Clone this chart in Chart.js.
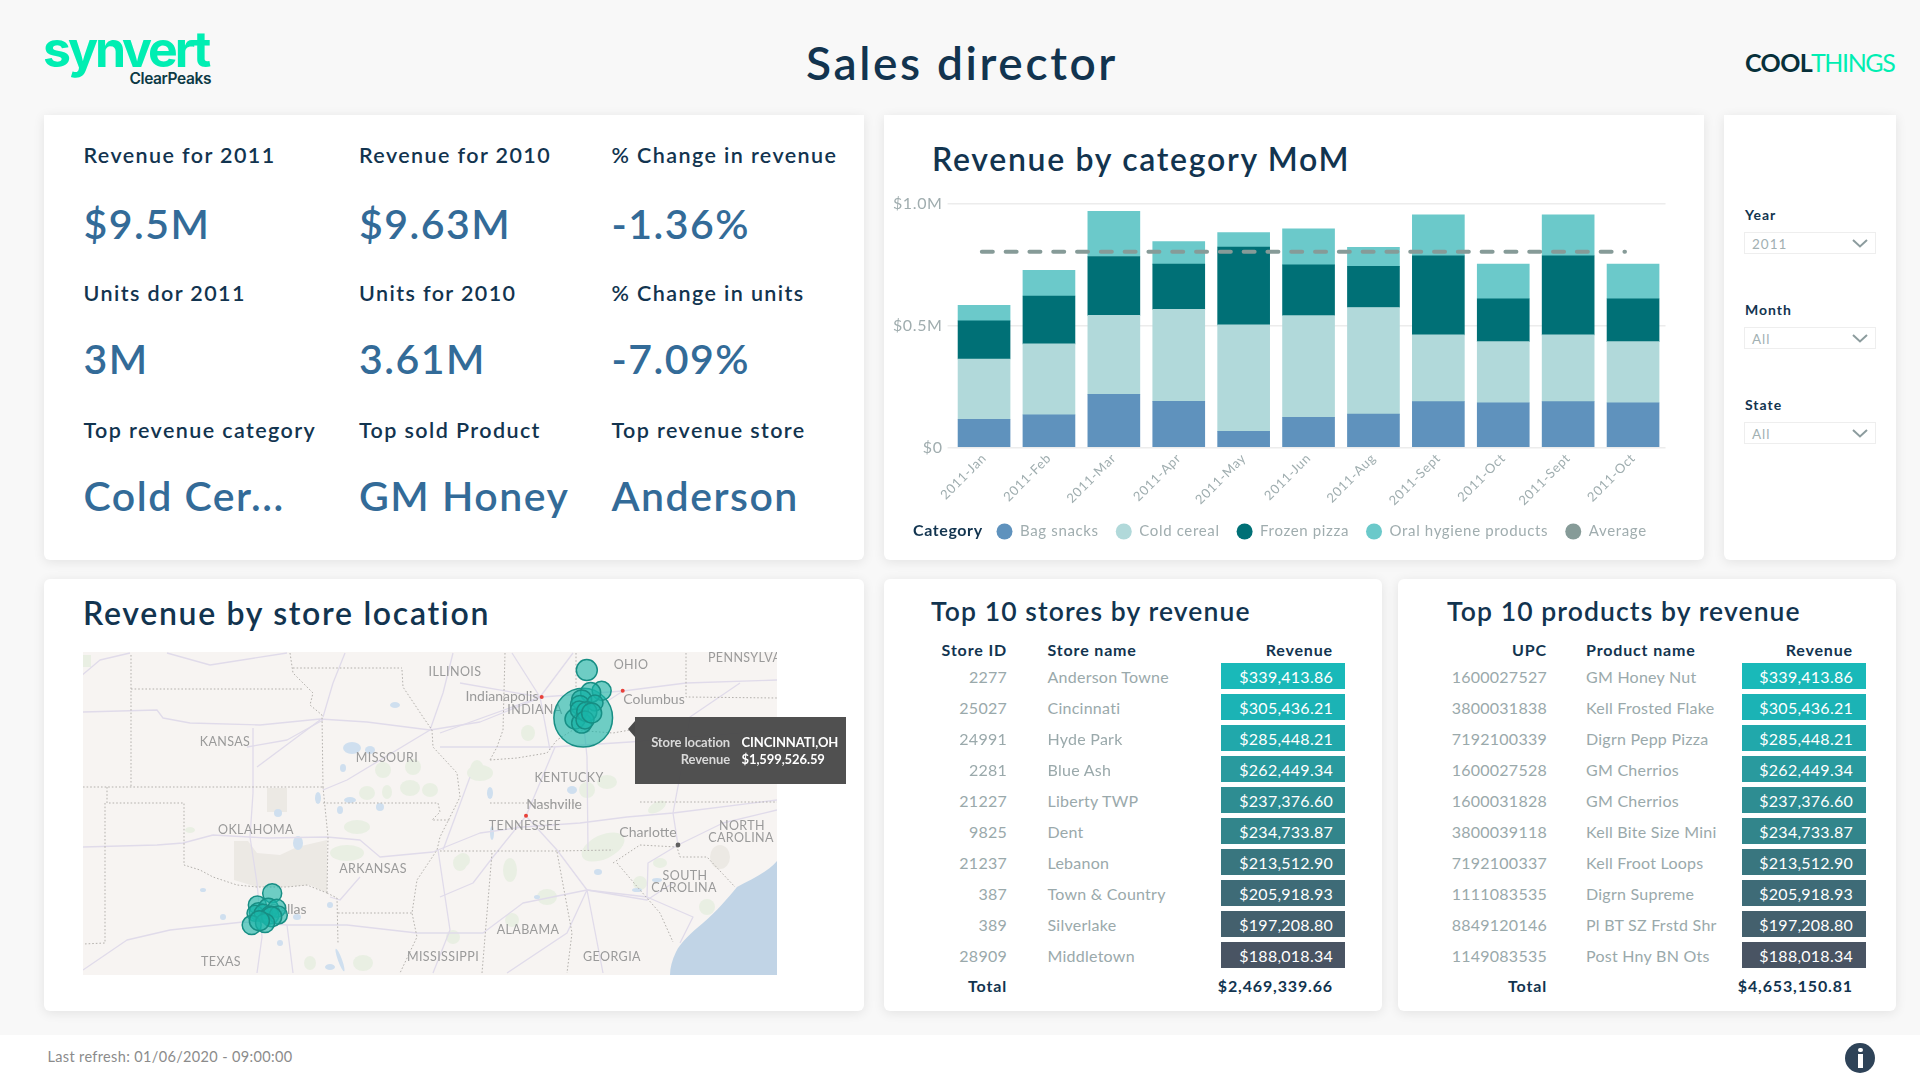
<!DOCTYPE html>
<html>
<head>
<meta charset="utf-8">
<title>Sales director</title>
<script src="https://cdn.jsdelivr.net/npm/chart.js@4"></script>
<style>
html, body { margin: 0; padding: 0; }
body { width: 1920px; height: 1080px; overflow: hidden; position: relative; background: #f8f8f8; font-family: Lato, sans-serif; }
.card { position: absolute; background: #fff; box-shadow: 0 2px 12px rgba(0,0,0,.09); border-radius: 0 0 6px 6px; }
.round { border-radius: 6px; }
.t { position: absolute; line-height: 0; white-space: nowrap; }
.box { position: absolute; left: 1744px; width: 130px; border: 1.5px solid #eeeeee; background: #fff; }
canvas { position: absolute; }
#footer { position: absolute; left: 0; top: 1035px; width: 1920px; height: 45px; background: #fff; }
#map { position: absolute; left: 83px; top: 652px; width: 694px; height: 323px; filter: blur(.55px); }
#map text { font-family: Lato, sans-serif; fill: #9a9a9a; font-size: 12.5px; text-anchor: middle; letter-spacing: .4px; }
#map text.city { font-size: 14px; letter-spacing: 0; }
#tip { position: absolute; left: 635px; top: 717px; width: 211px; height: 67px; background: rgba(74,74,74,.97); }
#tip:before { content: ""; position: absolute; left: -7px; top: 4px; border-style: solid; border-width: 8px 7px 8px 0; border-color: transparent #4a4a4a transparent transparent; }
</style>
</head>
<body>
<div id="page"></div>
<div id="footer"></div>
<svg id="map" viewBox="83 652 694 323" xmlns="http://www.w3.org/2000/svg">
  <rect x="83" y="652" width="694" height="323" fill="#f7f4f2"/>
  <g fill="#ece9e4">
    <path d="M234 841 L248 841 L257 853 L280 855 L297 847 L327 840 L327 893 L310 885 L287 887 L257 887 L234 880 Z"/>
    <rect x="267" y="788" width="20" height="24"/>
    <ellipse cx="720" cy="857" rx="10" ry="12"/>
  </g>
  <g fill="#e9efe3">
    <ellipse cx="357" cy="827" rx="13" ry="7"/><ellipse cx="347" cy="853" rx="17" ry="8"/>
    <ellipse cx="383" cy="770" rx="8" ry="8"/><ellipse cx="410" cy="788" rx="10" ry="8"/>
    <ellipse cx="430" cy="790" rx="8" ry="7"/><ellipse cx="413" cy="767" rx="8" ry="8"/>
    <ellipse cx="367" cy="793" rx="8" ry="7"/><ellipse cx="387" cy="792" rx="5" ry="7"/>
    <ellipse cx="190" cy="830" rx="5" ry="3"/><ellipse cx="460" cy="863" rx="7" ry="8"/>
    <ellipse cx="453" cy="937" rx="7" ry="7"/><ellipse cx="310" cy="963" rx="6" ry="7"/>
    <ellipse cx="363" cy="963" rx="10" ry="8"/><ellipse cx="477" cy="770" rx="7" ry="10"/>
    <ellipse cx="607" cy="782" rx="10" ry="7"/><ellipse cx="587" cy="790" rx="8" ry="8"/>
    <ellipse cx="603" cy="847" rx="23" ry="12" transform="rotate(-25 603 847)"/><ellipse cx="657" cy="807" rx="10" ry="5" transform="rotate(-30 657 807)"/>
    <ellipse cx="463" cy="860" rx="7" ry="7"/><ellipse cx="510" cy="870" rx="7" ry="12"/>
    <ellipse cx="547" cy="897" rx="10" ry="8"/><ellipse cx="512" cy="920" rx="7" ry="7"/>
    <ellipse cx="660" cy="863" rx="7" ry="5"/><ellipse cx="640" cy="883" rx="7" ry="7"/>
    <ellipse cx="707" cy="907" rx="8" ry="8"/><ellipse cx="528" cy="733" rx="7" ry="8"/>
    <ellipse cx="480" cy="773" rx="13" ry="8"/><rect x="83" y="655" width="8" height="12"/>
  </g>
  <path d="M777 861 C768 872 750 880 737 887 C728 898 716 912 703 923 C692 932 680 943 676 952 C672 960 670 968 670 975 L777 975 Z" fill="#c1d4e6"/>
  <g fill="#cfdfef">
    <ellipse cx="352" cy="748" rx="9" ry="6"/><ellipse cx="370" cy="750" rx="5" ry="4"/>
    <ellipse cx="343" cy="768" rx="3" ry="4"/><ellipse cx="395" cy="705" rx="5" ry="3"/>
    <ellipse cx="278" cy="813" rx="4" ry="4"/><ellipse cx="298" cy="843" rx="5" ry="7"/>
    <ellipse cx="350" cy="800" rx="6" ry="3"/><ellipse cx="380" cy="807" rx="4" ry="4"/>
    <ellipse cx="340" cy="810" rx="3" ry="4"/><ellipse cx="318" cy="798" rx="3" ry="6"/>
    <ellipse cx="280" cy="943" rx="3" ry="3"/><ellipse cx="223" cy="917" rx="3" ry="3"/>
    <ellipse cx="203" cy="890" rx="3" ry="2"/><ellipse cx="297" cy="917" rx="4" ry="3"/>
    <ellipse cx="330" cy="905" rx="3" ry="3"/><ellipse cx="340" cy="960" rx="2" ry="12" transform="rotate(-20 340 960)"/>
    <ellipse cx="330" cy="967" rx="5" ry="3"/><ellipse cx="572" cy="790" rx="5" ry="4"/>
    <ellipse cx="598" cy="872" rx="4" ry="3"/><ellipse cx="490" cy="793" rx="3" ry="6"/>
    <ellipse cx="492" cy="833" rx="2" ry="7"/><ellipse cx="657" cy="880" rx="5" ry="2"/>
    <ellipse cx="637" cy="890" rx="5" ry="2"/><ellipse cx="537" cy="897" rx="3" ry="2"/>
  </g>
  <g fill="none" stroke="#e0dbea" stroke-width="1.3" stroke-linejoin="round">
    <path d="M83 712 L157 710 L163 718 L190 723 L260 725 L320 719 L367 722 L430 730 L480 722 L542 697 L623 691 L686 683 L777 680"/>
    <path d="M83 847 L157 845 L183 843 L213 835 L267 838 L327 837 L360 840 L380 857 L433 852 L480 833 L523 827 L580 823 L627 817 L673 813 L777 800"/>
    <path d="M253 728 L253 793 L250 837 L257 883 L262 937 L257 973"/>
    <path d="M83 970 L127 940 L170 930 L243 922 L287 925 L347 925 L417 933 L483 933 L523 903 L587 890 L647 900 L673 883"/>
    <path d="M80 677 L100 660 L130 653"/><path d="M167 653 L210 665 L287 653"/>
    <path d="M345 653 L333 683 L323 717"/><path d="M430 730 L443 693 L453 653"/>
    <path d="M470 777 L443 850"/><path d="M257 767 L320 720"/>
    <path d="M323 720 L287 740 L247 747"/><path d="M438 850 L450 930 L433 973"/>
    <path d="M360 877 L340 900 L330 897"/><path d="M287 925 L293 973"/>
    <path d="M323 790 L347 780 L430 730"/>
    <path d="M512 653 L540 697 L573 653"/><path d="M540 697 L460 683"/><path d="M540 697 L550 750"/><path d="M540 697 L440 733"/>
    <path d="M583 717 L623 691"/><path d="M583 717 L587 757 L588 850"/>
    <path d="M440 747 L553 747 L630 742 L777 730"/>
    <path d="M526 816 L493 857 L473 883 L440 897"/><path d="M526 816 L555 747"/><path d="M526 816 L557 850 L587 890 L603 973"/>
    <path d="M678 845 L648 863 L647 897 L587 890"/><path d="M678 845 L673 813 L683 760 L690 717 L740 683"/><path d="M678 845 L723 823 L777 810"/>
    <path d="M587 890 L567 933 L507 973"/><path d="M647 897 L693 917 L680 943"/>
  </g>
  <g fill="none" stroke="#b4b1ad" stroke-width="1" stroke-dasharray="1.6 2">
    <path d="M131 655 L131 787"/><path d="M131 689 L303 689"/>
    <path d="M290 653 L293 673 L313 693 L310 705 L322 715 L323 787"/><path d="M83 787 L323 787"/>
    <path d="M107 787 L107 803 L184 803 L184 865 L200 870 L213 877 L237 885 L257 887 L287 887 L307 885 L327 893"/>
    <path d="M105 803 L105 943 L83 944"/><path d="M323 787 L328 837 L327 893"/>
    <path d="M323 803 L438 803 L440 812 L432 820 L450 820"/><path d="M327 893 L337 898 L338 943"/>
    <path d="M338 913 L412 913"/><path d="M293 668 L402 668"/>
    <path d="M402 670 L403 687 L423 717 L432 730 L433 747 L457 773 L460 797 L440 837 L437 850 L417 880 L412 913 L417 937 L400 973"/>
    <path d="M440 851 L557 851 L613 850"/><path d="M490 803 L580 803"/><path d="M640 802 L777 802"/>
    <path d="M505 653 L503 730 L497 747 L490 760"/><path d="M576 653 L576 690"/>
    <path d="M490 760 L517 758 L547 753 L557 740 L573 730 L613 733 L630 730"/>
    <path d="M686 653 L686 697 L777 698"/><path d="M492 853 L482 973"/><path d="M557 852 L572 933 L567 973"/>
    <path d="M613 863 L640 845 L677 847 L680 857 L707 857 L735 887"/><path d="M617 863 L640 890 L660 913 L673 942"/>
  </g>
  <circle cx="541.7" cy="697" r="2" fill="#e8413a"/><circle cx="622.7" cy="690.7" r="2" fill="#e8413a"/>
  <circle cx="526" cy="815.7" r="2" fill="#e8413a"/><circle cx="678" cy="845" r="2.4" fill="#5f5f5f"/>
  <text x="225" y="746">KANSAS</text><text x="387" y="762">MISSOURI</text><text x="256" y="834">OKLAHOMA</text>
  <text x="373" y="873">ARKANSAS</text><text x="221" y="966">TEXAS</text><text x="443" y="961">MISSISSIPPI</text>
  <text x="455" y="676">ILLINOIS</text><text x="631" y="669">OHIO</text><text x="756" y="662">PENNSYLVANIA</text>
  <text x="535" y="714">INDIANA</text><text x="569" y="782">KENTUCKY</text><text x="525" y="830">TENNESSEE</text>
  <text x="742" y="830">NORTH</text><text x="741" y="842">CAROLINA</text><text x="685" y="880">SOUTH</text><text x="684" y="892">CAROLINA</text>
  <text x="528" y="934">ALABAMA</text><text x="612" y="961">GEORGIA</text>
  <text class="city" x="502" y="701">Indianapolis</text><text class="city" x="654" y="704">Columbus</text>
  <text class="city" x="554" y="809">Nashville</text><text class="city" x="648" y="837">Charlotte</text><text class="city" x="288" y="914">Dallas</text>
</svg>
<canvas id="bubbleChart" style="left:83px;top:652px;width:694px;height:323px"></canvas>
<canvas id="barChart" style="left:884px;top:189px;width:820px;height:360px"></canvas>
<div id="tip"></div>
<div id="texts"></div>

<script>
// bar chart data, in $ millions
const months = ['2011-Jan', '2011-Feb', '2011-Mar', '2011-Apr', '2011-May', '2011-Jun', '2011-Aug', '2011-Sept', '2011-Oct', '2011-Sept', '2011-Oct'];
const bagSnacks = [0.116, 0.134, 0.218, 0.189, 0.066, 0.124, 0.137, 0.188, 0.183, 0.188, 0.183];
const coldCereal = [0.247, 0.291, 0.324, 0.377, 0.437, 0.417, 0.437, 0.274, 0.251, 0.274, 0.251];
const frozenPizza = [0.156, 0.196, 0.241, 0.186, 0.319, 0.208, 0.169, 0.324, 0.176, 0.324, 0.176];
const oralHygiene = [0.064, 0.105, 0.185, 0.092, 0.059, 0.148, 0.078, 0.168, 0.142, 0.168, 0.142];
const average = [0.803, 0.803, 0.803, 0.803, 0.803, 0.803, 0.803, 0.803, 0.803, 0.803, 0.803];
const yTickLabels = { 0: '$0', 0.5: '$0.5M', 1: '$1.0M' };

// store bubbles on the map
const storeLon = [-84.49, -84.35, -83.77, -84.20, -84.55, -84.62, -84.81, -84.55, -84.64, -84.03, -84.35, -84.42, -84.16,
    -96.64, -97.22, -97.18, -96.79, -96.46, -97.31, -96.99, -96.73, -96.40, -96.66, -97.44, -96.92, -97.14];
const storeLat = [39.14, 40.56, 39.94, 39.89, 39.67, 39.52, 39.10, 38.98, 39.37, 39.58, 39.32, 39.07, 39.28,
    33.90, 33.55, 33.35, 33.45, 33.45, 33.30, 33.30, 33.25, 33.25, 33.20, 32.95, 33.01, 33.08];
const storeRevenue = [1599526.59, 205000, 168000, 186000, 186000, 168000, 186000, 186000, 150000, 119000, 186000, 150000, 186000,
    168000, 150000, 150000, 186000, 150000, 119000, 150000, 150000, 150000, 186000, 168000, 168000, 186000];

// tables
const storeIds = ['2277', '25027', '24991', '2281', '21227', '9825', '21237', '387', '389', '28909'];
const storeNames = ['Anderson Towne', 'Cincinnati', 'Hyde Park', 'Blue Ash', 'Liberty TWP', 'Dent', 'Lebanon', 'Town & Country', 'Silverlake', 'Middletown'];
const upcs = ['1600027527', '3800031838', '7192100339', '1600027528', '1600031828', '3800039118', '7192100337', '1111083535', '8849120146', '1149083535'];
const productNames = ['GM Honey Nut', 'Kell Frosted Flake', 'Digrn Pepp Pizza', 'GM Cherrios', 'GM Cherrios', 'Kell Bite Size Mini', 'Kell Froot Loops', 'Digrn Supreme', 'Pl BT SZ Frstd Shr', 'Post Hny BN Ots'];
const topRevenues = ['$339,413.86', '$305,436.21', '$285,448.21', '$262,449.34', '$237,376.60', '$234,733.87', '$213,512.90', '$205,918.93', '$197,208.80', '$188,018.34'];
const rowShades = ['#19b9b9', '#1bb3b5', '#21a8ab', '#299a9e', '#2e8d92', '#32858b', '#39767f', '#3e6b77', '#44606d', '#495463'];

// kpi card
const kpiLabels = ['Revenue for 2011', 'Revenue for 2010', '% Change in revenue', 'Units dor 2011', 'Units for 2010', '% Change in units', 'Top revenue category', 'Top sold Product', 'Top revenue store'];
const kpiValues = ['$9.5M', '$9.63M', '-1.36%', '3M', '3.61M', '-7.09%', 'Cold Cer...', 'GM Honey', 'Anderson'];

const DARK = '#12344f';
const GREY = '#9aa9ab';
const MINT = '#00eeb2';

function addCard(x, y, w, h, round) {
    const el = document.createElement('div');
    el.className = round ? 'card round' : 'card';
    el.style.cssText = `left:${x}px;top:${y}px;width:${w}px;height:${h}px`;
    document.getElementById('page').appendChild(el);
}

// y is the baseline; align is 0 (left), 50 (centre) or 100 (right)
function addText(text, x, y, size, color, extra, align) {
    const el = document.createElement('div');
    el.className = 't';
    el.textContent = text;
    const shift = align ? `transform:translateX(-${align}%);` : '';
    el.style.cssText = `left:${x}px;top:${y - 0.387 * size}px;font-size:${size}px;color:${color};${shift}${extra || ''}`;
    document.getElementById('texts').appendChild(el);
    return el;
}

function renderHeader() {
    addText('Sales director', 962, 81, 46, DARK, 'font-weight:600;letter-spacing:2.65px', 50);
    addText('synvert', 43, 68, 50, MINT, 'font-family:Inter;font-weight:700;letter-spacing:-3.1px');
    addText('ClearPeaks', 211, 85, 15.5, '#0d3a45', 'font-family:Inter;font-weight:600;letter-spacing:-.4px', 100);
    addText('COOL', 1745, 72, 25, '#07303a', 'font-weight:700;letter-spacing:-.6px');
    addText('THINGS', 1811, 72, 25, MINT, 'font-weight:400;letter-spacing:-1.4px');
}

function renderKpis() {
    const xs = [83.5, 359, 611.5];
    const labelY = [163, 301, 438];
    const valueY = [239.5, 374.5, 511.5];
    kpiLabels.forEach((label, i) => {
        const col = i % 3;
        const row = Math.floor(i / 3);
        addText(label, xs[col], labelY[row], 21.5, DARK, 'font-weight:600;letter-spacing:1.4px');
        addText(kpiValues[i], xs[col], valueY[row], 41, '#336b98', 'font-weight:600;letter-spacing:1.5px');
    });
}

function renderTable(title, titleX, heads, col1, col2, total, cols) {
    addText(title, titleX, 621, 26.5, DARK, 'font-weight:600;letter-spacing:1.1px');
    const bold = 'font-weight:700;letter-spacing:.85px';
    const body = 'letter-spacing:.25px';
    addText(heads[0], cols.idRight, 656, 16, DARK, bold, 100);
    addText(heads[1], cols.nameLeft, 656, 16, DARK, bold);
    addText(heads[2], cols.revRight, 656, 16, DARK, bold, 100);
    col1.forEach((id, i) => {
        const base = 682.7 + i * 31;
        const cell = document.createElement('div');
        cell.style.cssText = `position:absolute;left:${cols.barLeft}px;top:${663 + i * 31}px;width:124px;height:26px;background:${rowShades[i]}`;
        document.getElementById('texts').appendChild(cell);
        addText(id, cols.idRight, base, 16, GREY, body, 100);
        addText(col2[i], cols.nameLeft, base, 16, GREY, body);
        addText(topRevenues[i], cols.revRight, base, 16, '#ffffff', body, 100);
    });
    addText('Total', cols.idRight, 992, 16, DARK, bold, 100);
    addText(total, cols.revRight, 992, 16, DARK, bold, 100);
}

function renderFilters() {
    const filters = [['Year', '2011', 220, 232], ['Month', 'All', 315, 327], ['State', 'All', 410, 422]];
    filters.forEach(([label, value, labelY, boxY]) => {
        const box = document.createElement('div');
        box.className = 'box';
        box.style.top = boxY + 'px';
        box.style.height = '20px';
        box.innerHTML = '<svg width="16" height="9" style="position:absolute;left:107px;top:6px"><path d="M1 1 L8 7.5 L15 1" fill="none" stroke="#8c9c9e" stroke-width="2"/></svg>';
        document.getElementById('texts').appendChild(box);
        addText(label, 1745, labelY, 14, DARK, 'font-weight:700;letter-spacing:1px');
        addText(value, 1752, boxY + 17, 13.5, '#a2b0b2', 'letter-spacing:1px');
    });
}

function renderFooterAndTip() {
    addText('Last refresh: 01/06/2020 - 09:00:00', 47.5, 1063, 14.5, '#8b8b8b', 'letter-spacing:.35px');
    const info = document.createElement('div');
    info.style.cssText = 'position:absolute;left:1845px;top:1042.5px;width:30px;height:30px;border-radius:50%;background:#2e4358';
    info.innerHTML = '<div style="position:absolute;left:12.5px;top:5px;width:5px;height:4px;background:#fff;border-radius:2px"></div><div style="position:absolute;left:12.5px;top:11px;width:5px;height:14px;background:#fff"></div>';
    document.getElementById('texts').appendChild(info);
    const head = 'font-weight:700;letter-spacing:-.1px';
    addText('Store location', 730, 747, 13, '#d9d9d9', head, 100);
    addText('CINCINNATI,OH', 741.5, 747, 13, '#ffffff', head);
    addText('Revenue', 730, 764.5, 13, '#d9d9d9', head, 100);
    addText('$1,599,526.59', 741.5, 764.5, 13, '#ffffff', head);
}

function renderBarChart() {
    const barDataset = (label, data, color) => ({
        type: 'bar', label: label, data: data, backgroundColor: color, order: 1,
        xAxisID: 'x', stack: 'revenue', grouped: false, barThickness: 52
    });
    new Chart(document.getElementById('barChart'), {
        data: {
            labels: months,
            datasets: [
                barDataset('Bag snacks', bagSnacks, '#5f92bd'),
                barDataset('Cold cereal', coldCereal, '#b1d9da'),
                barDataset('Frozen pizza', frozenPizza, '#007076'),
                barDataset('Oral hygiene products', oralHygiene, '#6bc9ca'),
                {
                    type: 'line', label: 'Average', order: 0, xAxisID: 'xLine',
                    data: average.map((value, i) => ({ x: i, y: value })),
                    borderColor: '#869b98', backgroundColor: '#869b98', borderWidth: 4,
                    borderDash: [11, 12.8], borderCapStyle: 'round', pointRadius: 0, tension: 0
                }
            ]
        },
        options: {
            responsive: false,
            animation: false,
            layout: { padding: { left: 0, right: 38.5, top: 11.1, bottom: 0 } },
            plugins: {
                tooltip: { enabled: false },
                legend: {
                    position: 'bottom',
                    align: 'start',
                    labels: {
                        usePointStyle: true, pointStyle: 'circle', pointStyleWidth: 16, boxHeight: 11.3,
                        padding: 17, color: '#a0adaf', font: { family: 'Lato', size: 15 },
                        sort: (a, b) => a.datasetIndex - b.datasetIndex,
                        generateLabels: chart => Chart.defaults.plugins.legend.labels.generateLabels(chart)
                            .map(item => Object.assign(item, { lineWidth: 0 }))
                    }
                }
            },
            scales: {
                x: {
                    stacked: true,
                    grid: { display: false },
                    border: { display: false },
                    afterFit: scale => { scale.height = 59.5; },
                    ticks: { minRotation: 45, maxRotation: 45, autoSkip: false, padding: -5, color: '#9fadaf', font: { family: 'Lato', size: 13 } }
                },
                // the average line sits a little inside the bar centres in the original
                xLine: { type: 'linear', display: false, min: -0.47, max: 10.63 },
                y: {
                    stacked: true,
                    min: 0,
                    max: 1,
                    afterFit: scale => { scale.width = 67.6; },
                    afterBuildTicks: scale => { scale.ticks = Object.keys(yTickLabels).map(v => ({ value: Number(v) })); },
                    grid: { color: '#ececec', lineWidth: 1.5, tickLength: 4 },
                    border: { display: false },
                    ticks: { padding: 5, color: '#a0adaf', font: { family: 'Lato', size: 16 }, callback: value => yTickLabels[value] }
                }
            }
        },
        plugins: [{
            id: 'legendSpot',
            beforeUpdate: chart => { chart.ctx.letterSpacing = '0.65px'; },
            afterLayout: chart => {
                // category row starts after the html "Category" caption, labels may run below the axis box
                chart.legend.left = 95.5;
                chart.legend.right = chart.legend.left + chart.legend.width;
                chart.scales.x.bottom += 20;
            }
        }]
    });
}

function renderBubbleChart() {
    new Chart(document.getElementById('bubbleChart'), {
        type: 'bubble',
        data: {
            datasets: [{
                label: 'Revenue',
                data: storeLon.map((lon, i) => ({ x: lon, y: storeLat[i], r: Math.sqrt(storeRevenue[i]) * 0.0232 })),
                backgroundColor: 'rgba(26,181,168,.62)',
                borderColor: '#178e84',
                borderWidth: 1.5,
                clip: false
            }]
        },
        options: {
            responsive: false,
            animation: false,
            layout: { autoPadding: false },
            plugins: { legend: { display: false }, tooltip: { enabled: false } },
            scales: {
                x: { type: 'linear', display: false, min: -104.03, max: -76.92 },
                y: { type: 'linear', display: false, min: 31.46, max: 41.1 }
            }
        }
    });
}

function loadDashboard() {
    addCard(44, 115, 820, 445);
    addCard(884, 115, 820, 445);
    addCard(1724, 115, 172, 445);
    addCard(44, 579, 820, 432, true);
    addCard(884, 579, 498, 432, true);
    addCard(1398, 579, 498, 432, true);

    renderHeader();
    renderKpis();
    addText('Revenue by category MoM', 932, 171, 32, DARK, 'font-weight:600;letter-spacing:1.7px');
    addText('Revenue by store location', 83, 625, 32, DARK, 'font-weight:600;letter-spacing:1.7px');
    addText('Category', 913, 536, 16, DARK, 'font-weight:700;letter-spacing:.6px');
    renderTable('Top 10 stores by revenue', 931, ['Store ID', 'Store name', 'Revenue'], storeIds, storeNames, '$2,469,339.66',
        { idRight: 1007, nameLeft: 1047.5, revRight: 1333, barLeft: 1221 });
    renderTable('Top 10 products by revenue', 1447, ['UPC', 'Product name', 'Revenue'], upcs, productNames, '$4,653,150.81',
        { idRight: 1547, nameLeft: 1586, revRight: 1853, barLeft: 1742 });
    renderFilters();
    renderFooterAndTip();
    renderBarChart();
    renderBubbleChart();
}

window.onload = loadDashboard;
</script>
</body>
</html>
